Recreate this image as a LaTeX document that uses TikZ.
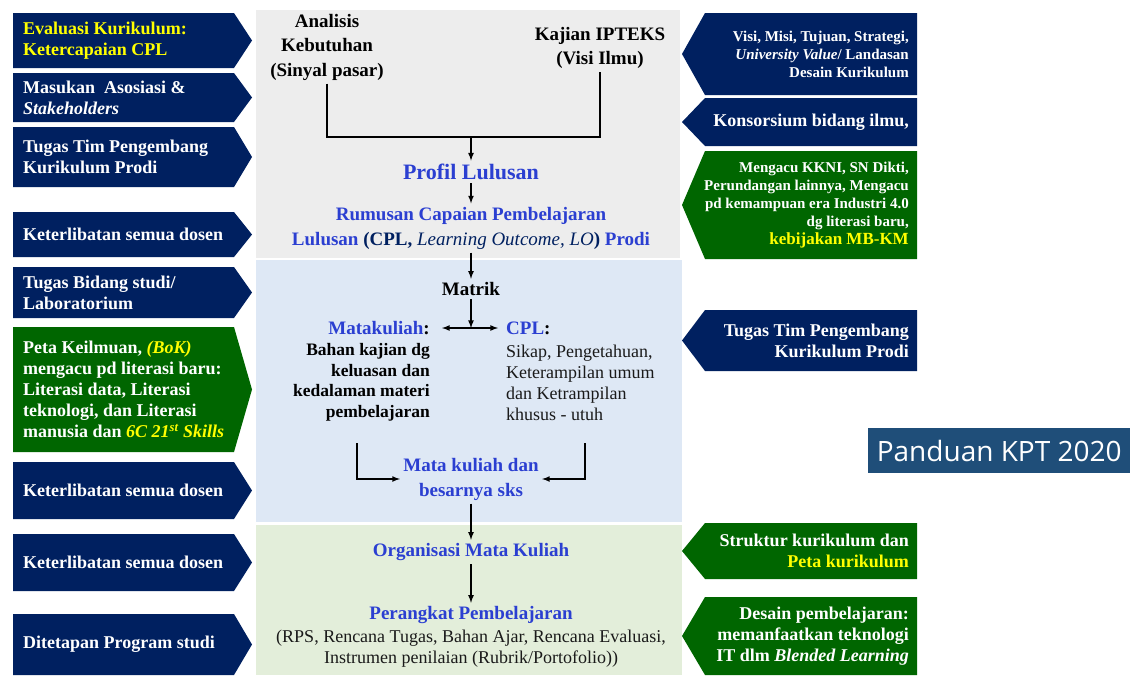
\documentclass[tikz,border=0pt]{standalone}
\usepackage{fontspec}
\setmainfont{Liberation Serif}
\newfontfamily\kptfont{Open Sans}
\usetikzlibrary{arrows}
\usepackage{xcolor}

\definecolor{navy}{HTML}{002060}
\definecolor{boxgreen}{HTML}{006600}
\definecolor{flowblue}{HTML}{2B3FD1}
\definecolor{hiyellow}{HTML}{FFFF00}
\definecolor{panelgray}{HTML}{EDEDED}
\definecolor{panelblue}{HTML}{DEE8F5}
\definecolor{panelgreen}{HTML}{E3EEDA}
\definecolor{kptblue}{HTML}{1F4E79}
\definecolor{darktext}{HTML}{1A1A1A}

\tikzset{
  lefttext/.style={anchor=west, align=left, text=white, inner sep=0pt, font=\bfseries\fontsize{18}{21}\selectfont},
  righttext/.style={anchor=east, align=right, text=white, inner sep=0pt, font=\bfseries\fontsize{18}{21}\selectfont},
  smallright/.style={righttext, font=\bfseries\fontsize{15}{18}\selectfont},
  headtext/.style={align=center, text=black, font=\bfseries\fontsize{19}{24.5}\selectfont},
  bluetext/.style={align=center, text=flowblue, font=\bfseries\fontsize{19}{25}\selectfont},
  plaintext/.style={text=darktext, font=\fontsize{18}{21}\selectfont},
  flow/.style={line width=1.6pt, -latex},
  joint/.style={line width=1.6pt}
}

\begin{document}
\begin{tikzpicture}[x=1pt,y=-1pt]
        \useasboundingbox (0,0) rectangle (1135,675);
        % panel tengah
        \fill[panelgray] (256,10) rectangle (680,258);
        \fill[panelblue] (256,260) rectangle (682,522);
        \fill[panelgreen] (256,525) rectangle (682,675);
        % panah kiri
        \foreach \ya/\yb/\col in {13/68/navy,73/122/navy,127/187/navy,212/257/navy,267/318/navy,327/452/boxgreen,462/519/navy,534/591/navy,614/675/navy}
        \fill[fill=\col] (13,\ya) -- (234,\ya) -- (252,{(\ya+\yb)/2}) -- (234,\yb) -- (13,\yb) -- cycle;
        % panah kanan
        \foreach \ya/\yb/\col in {13/95/navy,98/146/navy,151/259/boxgreen,310/371/navy,523/579/boxgreen,597/675/boxgreen}
        \fill[fill=\col] (917,\ya) -- (705,\ya) -- (682,{(\ya+\yb)/2}) -- (705,\yb) -- (917,\yb) -- cycle;
        % teks kiri
        \node[lefttext, text=hiyellow] (evaluasi) at (23,40.5) {Evaluasi Kurikulum:\\Ketercapaian CPL};
        \node[lefttext] (masukan) at (23,97.5) {Masukan\ \ Asosiasi \&\\\textit{Stakeholders}};
        \node[lefttext] (tugastim) at (23,157) {Tugas Tim Pengembang\\Kurikulum Prodi};
        \node[lefttext] (dosena) at (23,234.5) {Keterlibatan semua dosen};
        \node[lefttext] (bidang) at (23,292.5) {Tugas Bidang studi/\\Laboratorium};
        \node[lefttext] (peta) at (23,389.5) {Peta Keilmuan, {\color{hiyellow}\textit{(BoK)}}\\mengacu pd literasi baru:\\Literasi data, Literasi\\teknologi, dan Literasi\\manusia dan {\color{hiyellow}\textit{6C 21\textsuperscript{st} Skills}}};
        \node[lefttext] (dosenb) at (23,490.5) {Keterlibatan semua dosen};
        \node[lefttext] (dosenc) at (23,562.5) {Keterlibatan semua dosen};
        \node[lefttext] (prodi) at (23,644) {Ditetapan Program studi};
        % teks kanan
        \node[smallright] (visi) at (909,54) {Visi, Misi, Tujuan, Strategi,\\\textit{University Value}/ Landasan\\Desain Kurikulum};
        \node[righttext] (konsorsium) at (909,122) {Konsorsium bidang ilmu,};
        \node[smallright] (kkni) at (909,205) {Mengacu KKNI, SN Dikti,\\Perundangan lainnya, Mengacu\\pd kemampuan era Industri 4.0\\dg literasi baru,\\{\color{hiyellow}\fontsize{17}{21}\selectfont kebijakan MB-KM}};
        \node[righttext] (tugasprodi) at (909,340.5) {Tugas Tim Pengembang\\Kurikulum Prodi};
        \node[righttext] (struktur) at (909,551) {Struktur kurikulum dan\\{\color{hiyellow}Peta kurikulum}};
        \node[righttext] (desain) at (909,636) {Desain pembelajaran:\\memanfaatkan teknologi\\IT dlm \textit{Blended Learning}};
        \node[fill=kptblue, text=white, font=\kptfont\fontsize{28}{32}\selectfont, minimum width=262pt, minimum height=45pt, anchor=west] (panduan) at (868,450.5) {Panduan KPT 2020};
        % alur tengah
        \node[headtext] (analisis) at (327,47) {Analisis\\Kebutuhan\\(Sinyal pasar)};
        \node[headtext] (kajian) at (600,48) {Kajian IPTEKS\\(Visi Ilmu)};
        \coordinate (gabung) at (471,137);
        \node[bluetext, font=\bfseries\fontsize{22}{26}\selectfont] (profil) at (471,172) {Profil Lulusan};
        \node[bluetext] (rumusan) at (471,228) {Rumusan Capaian Pembelajaran\\Lulusan {\color{navy}(CPL, \textit{\mdseries Learning Outcome, LO})} Prodi};
        \node[headtext] (matrik) at (471,289) {Matrik};
        \node[bluetext, anchor=east, inner sep=0pt] (matakuliah) at (430,328) {Matakuliah\textcolor{black}{:}};
        \node[anchor=east, align=right, inner sep=0pt, font=\bfseries\fontsize{17.5}{20.5}\selectfont] (bahan) at (430,382.5) {Bahan kajian dg\\keluasan dan\\kedalaman materi\\pembelajaran};
        \node[bluetext, anchor=west, inner sep=0pt] (cpl) at (506,328) {CPL\textcolor{black}{:}};
        \node[plaintext, anchor=west, align=left, inner sep=0pt] (sikap) at (506,382.5) {Sikap, Pengetahuan,\\Keterampilan umum\\dan Ketrampilan\\khusus - utuh};
        \coordinate (pisah) at (matrik.south |- matakuliah.east);
        \coordinate (kakikiri) at (357,443);
        \coordinate (kakikanan) at (585,443);
        \node[bluetext] (matasks) at (471,479) {Mata kuliah dan\\besarnya sks};
        \node[bluetext] (organisasi) at (471,552) {Organisasi Mata Kuliah};
        \node[bluetext] (perangkat) at (471,615) {Perangkat Pembelajaran};
        \node[plaintext, align=center] (instrumen) at (471,649) {(RPS, Rencana Tugas, Bahan Ajar, Rencana Evaluasi,\\Instrumen penilaian (Rubrik/Portofolio))};
        % garis dan panah
        \draw[joint] (analisis.south) |- (gabung);
        \draw[joint] (kajian.south) |- (gabung);
        \draw[flow] (gabung) -- (profil.north);
        \draw[flow] (profil.south) -- (rumusan.north);
        \draw[flow] (rumusan.south) -- (matrik.north);
        \draw[flow] (matrik.south) -- (pisah);
        \draw[flow, latex-latex, shorten <=12pt, shorten >=8pt] (matakuliah.east) -- (cpl.west);
        \draw[flow] (kakikiri) |- (matasks.west);
        \draw[flow] (kakikanan) |- (matasks.east);
        \draw[flow] (matasks.south) -- (organisasi.north);
        \draw[flow] (organisasi.south) -- (perangkat.north);
\end{tikzpicture}
\end{document}
